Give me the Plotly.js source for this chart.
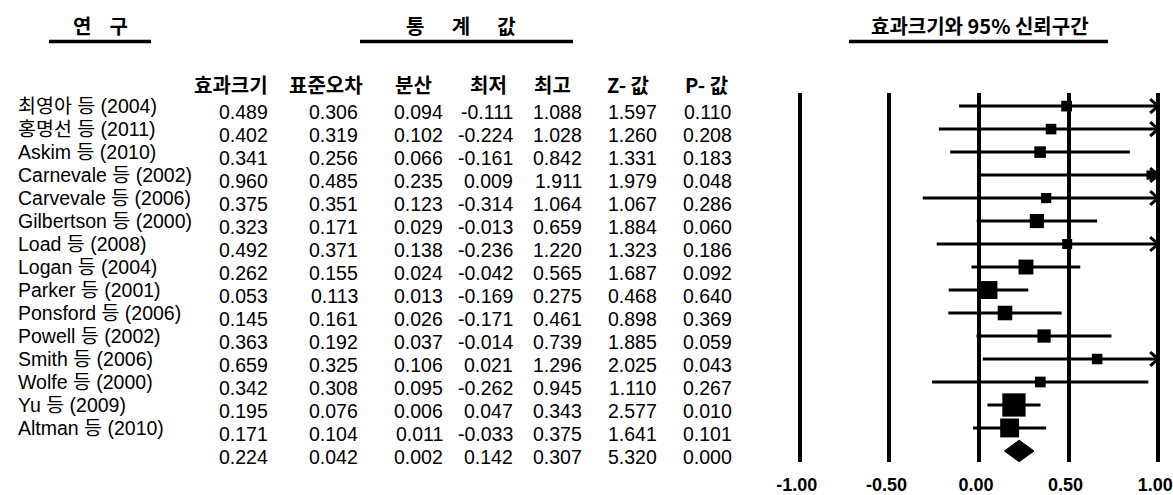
<!DOCTYPE html>
<html>
<head>
<meta charset="utf-8">
<script src="https://cdn.plot.ly/plotly-3.0.1.min.js"></script>
<style>html,body{margin:0;padding:0;background:#fff;}#chart{width:1173px;height:495px;}</style>
</head>
<body>
<div id="chart"></div>
<script>
// ---------- data ----------
const studies = ['최영아 등 (2004)', '홍명선 등 (2011)', 'Askim 등 (2010)', 'Carnevale 등 (2002)',
  'Carvevale 등 (2006)', 'Gilbertson 등 (2000)', 'Load 등 (2008)', 'Logan 등 (2004)',
  'Parker 등 (2001)', 'Ponsford 등 (2006)', 'Powell 등 (2002)', 'Smith 등 (2006)',
  'Wolfe 등 (2000)', 'Yu 등 (2009)', 'Altman 등 (2010)'];
const effect   = [0.489, 0.402, 0.341, 0.960, 0.375, 0.323, 0.492, 0.262, 0.053, 0.145, 0.363, 0.659, 0.342, 0.195, 0.171];
const stdErr   = [0.306, 0.319, 0.256, 0.485, 0.351, 0.171, 0.371, 0.155, 0.113, 0.161, 0.192, 0.325, 0.308, 0.076, 0.104];
const variance = [0.094, 0.102, 0.066, 0.235, 0.123, 0.029, 0.138, 0.024, 0.013, 0.026, 0.037, 0.106, 0.095, 0.006, 0.011];
const lower    = [-0.111, -0.224, -0.161, 0.009, -0.314, -0.013, -0.236, -0.042, -0.169, -0.171, -0.014, 0.021, -0.262, 0.047, -0.033];
const upper    = [1.088, 1.028, 0.842, 1.911, 1.064, 0.659, 1.220, 0.565, 0.275, 0.461, 0.739, 1.296, 0.945, 0.343, 0.375];
const zValue   = [1.597, 1.260, 1.331, 1.979, 1.067, 1.884, 1.323, 1.687, 0.468, 0.898, 1.885, 2.025, 1.110, 2.577, 1.641];
const pValue   = [0.110, 0.208, 0.183, 0.048, 0.286, 0.060, 0.186, 0.092, 0.640, 0.369, 0.059, 0.043, 0.267, 0.010, 0.101];

const pooledEffect = 0.224, pooledSE = 0.042, pooledVar = 0.002, pooledLower = 0.142,
      pooledUpper = 0.307, pooledZ = 5.320, pooledP = 0.000;

const columnHeaders = ['효과크기', '표준오차', '분산', '최저', '최고', 'Z- 값', 'P- 값'];
const sectionTitles = ['연 구', '통 계 값', '효과크기와 95% 신뢰구간'];
const tickValues = [-1, -0.5, 0, 0.5, 1];
const tickLabels = ['-1.00', '-0.50', '0.00', '0.50', '1.00'];

// ---------- layout geometry ----------
const W = 1173, Hh = 495;
const L = 798, R = 13, T = 93, B = 33;
const PW = W - L - R, PH = Hh - T - B;
const xRange = [-1.01, 1.01];
const px = x => (x - L) / PW;          // pixel -> paper x
const py = y => (T + PH - y) / PH;     // pixel -> paper y

const nRows = studies.length + 1;
const rows = studies.map((_, i) => i + 1);
const pooledRow = nRows;
const yRange = [nRows + 0.48, 0.43];
const rowPx = PH / (yRange[0] - yRange[1]);

const kor = 'Noto Sans CJK KR, sans-serif';
const latKor = 'Liberation Sans, Noto Sans CJK KR, sans-serif';
const num = 'Liberation Sans, Arial, sans-serif';

// ---------- traces ----------
const lo = v => Math.max(v, -1), hi = v => Math.min(v, 1);
const ciX = [], ciY = [], arX = [], arY = [];
const adx = 0.045, ady = 0.3;
rows.forEach((r, i) => {
  ciX.push(lo(lower[i]), hi(upper[i]), null);
  ciY.push(r, r, null);
  if (upper[i] > 1) {
    arX.push(1 - adx, 1, 1 - adx, null);
    arY.push(r - ady, r, r + ady, null);
  }
});

const traces = [
  {x: ciX, y: ciY, mode: 'lines', line: {color: '#000', width: 3}, hoverinfo: 'skip'},
  {x: arX, y: arY, mode: 'lines', line: {color: '#000', width: 3}, hoverinfo: 'skip'},
  {x: effect, y: rows, mode: 'markers', hoverinfo: 'skip', cliponaxis: false,
   marker: {symbol: 'square', color: '#000', opacity: 1, line: {width: 0},
            size: variance.map(v => 6.5 + 1.3 * Math.sqrt(1 / v))}},
  {x: [pooledLower, pooledEffect, pooledUpper, pooledEffect, pooledLower],
   y: [pooledRow, pooledRow - 0.47, pooledRow, pooledRow + 0.47, pooledRow],
   mode: 'lines', fill: 'toself', fillcolor: '#000', line: {color: '#000', width: 1}, hoverinfo: 'skip'}
];

// ---------- table text ----------
const annotations = [];
const colRight = [270, 360, 444.5, 514.5, 583.5, 658.5, 733.5];
const headCenter = [231, 326, 413.5, 488, 552.5, 628, 706.5];
columnHeaders.forEach((h, j) => annotations.push({
  xref: 'paper', yref: 'paper', x: px(headCenter[j]), y: py(84), xanchor: 'center', yanchor: 'middle',
  text: '<b>' + h + '</b>', showarrow: false, font: {family: kor, size: 20, color: '#000'}
}));
// study names: one multi-line block, line pitch equal to the row pitch (plotly line spacing = 1.3em)
const nameSize = 19.5;
annotations.push({
  xref: 'paper', yref: 'y', x: px(16), y: (rows[0] + rows[rows.length - 1]) / 2,
  xanchor: 'left', yanchor: 'middle', align: 'left', showarrow: false,
  text: studies.map(s => '<span style="font-size:' + nameSize + 'px">' + s + '</span>').join('<br>'),
  font: {family: latKor, size: rowPx / 1.3, color: '#000'}
});
const tableRows = effect.map((e, i) => [e, stdErr[i], variance[i], lower[i], upper[i], zValue[i], pValue[i]]);
tableRows.push([pooledEffect, pooledSE, pooledVar, pooledLower, pooledUpper, pooledZ, pooledP]);
tableRows.forEach((vals, i) => {
  vals.forEach((v, j) => annotations.push({
    xref: 'paper', yref: 'y', x: px(colRight[j]), y: i + 1 + 0.26, xanchor: 'right', yanchor: 'middle',
    text: v.toFixed(3), showarrow: false, font: {family: num, size: 19.5, color: '#000'}
  }));
});
const titleCenter = [100, 461, 980];
const titleGap = [4, 6, 1];
sectionTitles.forEach((t, k) => annotations.push({
  xref: 'paper', yref: 'paper', x: px(titleCenter[k]), y: py(25), xanchor: 'center', yanchor: 'middle',
  text: '<b>' + t.replace(/ /g, '\u00a0'.repeat(titleGap[k])) + '</b>', showarrow: false,
  font: {family: kor, size: 20, color: '#000'}
}));

const underlines = [[49, 151], [360, 573], [849, 1108]];
const shapes = underlines.map(u => ({
  type: 'line', xref: 'paper', yref: 'paper', x0: px(u[0]), x1: px(u[1]), y0: py(41.5), y1: py(41.5),
  line: {color: '#000', width: 3.5}
}));

const layout = {
  width: W, height: Hh,
  margin: {l: L, r: R, t: T, b: B, pad: 0},
  paper_bgcolor: '#fff', plot_bgcolor: '#fff',
  showlegend: false, hovermode: false,
  xaxis: {range: xRange, tickvals: tickValues, ticktext: tickLabels, showgrid: true, gridcolor: '#000',
          gridwidth: 4, zeroline: false, showline: false, ticks: '', ticklabelstandoff: 10,
          ticklabelshift: -3, ticklabeloverflow: 'allow',
          tickfont: {family: num, size: 18, color: '#000', weight: 'bold'}, fixedrange: true},
  yaxis: {range: yRange, showgrid: false, zeroline: false, showticklabels: false,
          showline: false, ticks: '', fixedrange: true},
  annotations: annotations,
  shapes: shapes
};

Plotly.newPlot('chart', traces, layout, {displayModeBar: false, staticPlot: true});
</script>
</body>
</html>
